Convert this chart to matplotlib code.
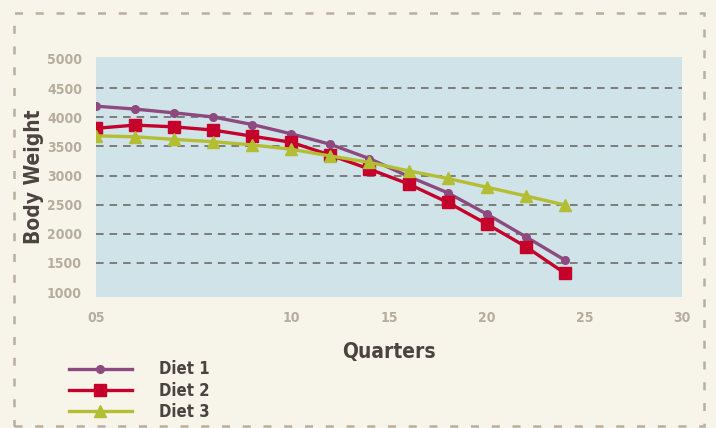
import matplotlib
matplotlib.use("Agg")
import matplotlib.pyplot as plt
from matplotlib.patches import Rectangle

# quarters and body weight for each diet
quarters = [0, 2, 4, 6, 8, 10, 12, 14, 16, 18, 20, 22, 24]
diet1 = [4190, 4140, 4075, 4005, 3875, 3715, 3535, 3290, 2985, 2705, 2340, 1950, 1550]
diet2 = [3810, 3865, 3835, 3780, 3675, 3570, 3350, 3110, 2855, 2540, 2170, 1780, 1325]
diet3 = [3680, 3665, 3620, 3580, 3525, 3450, 3335, 3225, 3080, 2950, 2800, 2650, 2495]
labels = ["Diet 1", "Diet 2", "Diet 3"]

xticks = [0, 10, 15, 20, 25, 30]
xtick_labels = ["05", "10", "15", "20", "25", "30"]
yticks = [1000, 1500, 2000, 2500, 3000, 3500, 4000, 4500, 5000]

plt.rcParams['font.family'] = ['DejaVu Sans']
plt.rcParams['font.stretch'] = 'condensed'

bg = "#f7f4e9"
fig = plt.figure(figsize=(7.16, 4.28), dpi=100, facecolor=bg)
ax = fig.add_axes([0.134, 0.306, 0.8185, 0.561])
ax.set_facecolor("#cfe3e9")

ax.plot(quarters, diet1, color="#8c4a7e", lw=2.4, marker="o", ms=5.5, label=labels[0], zorder=3)
ax.plot(quarters, diet2, color="#c4002b", lw=2.4, marker="s", ms=9, label=labels[1], zorder=4)
ax.plot(quarters, diet3, color="#b3be32", lw=2.4, marker="^", ms=8, label=labels[2], zorder=5)

ax.set_xlim(0, 30)
ax.set_ylim(915, 5035)
ax.set_xticks(xticks)
ax.set_xticklabels(xtick_labels)
ax.set_yticks(yticks)
for s in ax.spines.values():
    s.set_visible(False)
ax.tick_params(length=0, colors="#b5ad9e", labelsize=10)
ax.tick_params(axis="x", pad=10)
ax.tick_params(axis="y", pad=10)
for t in ax.get_xticklabels() + ax.get_yticklabels():
    t.set_fontweight("bold")
    t.set_fontstretch("condensed")

ax.grid(axis="y", color="#747474", lw=1.3, linestyle=(0, (4.2, 3.3)))
gl = ax.yaxis.get_gridlines()
gl[0].set_visible(False)
gl[-1].set_visible(False)

ax.set_xlabel("Quarters", fontsize=15, fontweight="bold", color="#4a4340", labelpad=12,
              fontstretch="condensed")
ax.set_ylabel("Body Weight", fontsize=15, fontweight="bold", color="#4a4340",
              fontstretch="condensed")
ax.yaxis.set_label_coords(-0.088, 0.5)

fig.legend(loc="upper left", bbox_to_anchor=(0.075, 0.193), frameon=False,
           handlelength=3.8, handletextpad=1.6, labelspacing=0.2,
           prop={"size": 12, "weight": "bold", "stretch": "condensed"}, labelcolor="#4a4340")

# dashed frame around the figure
fig.patches.append(Rectangle((0.02, 0.005), 0.963, 0.965, transform=fig.transFigure,
                             fill=False, edgecolor="#b8af9f", lw=1.8,
                             linestyle=(0, (3.2, 5.1))))

fig.savefig("out.png", dpi=100, facecolor=bg)
